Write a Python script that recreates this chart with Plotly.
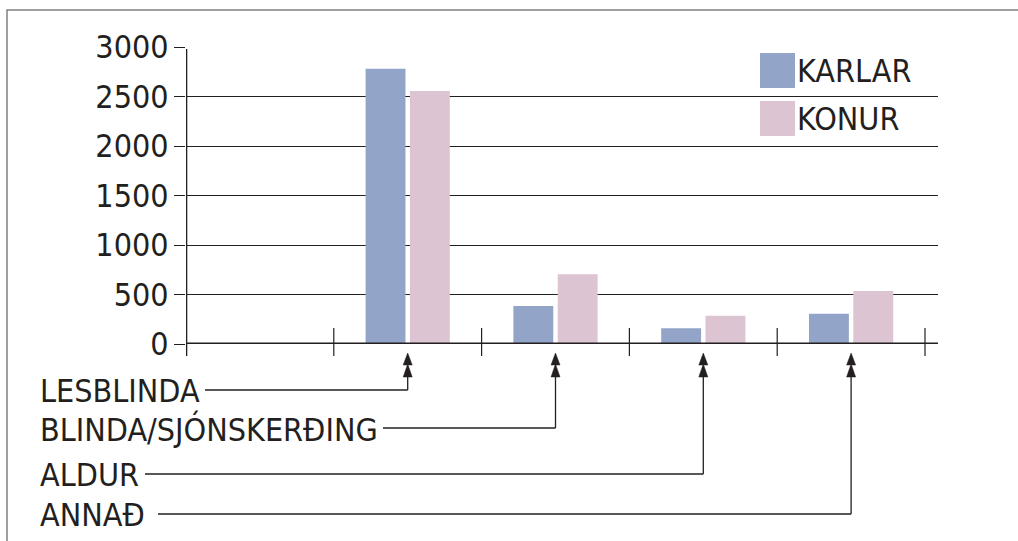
import plotly.graph_objects as go

# ---------------- data ----------------
categories = [" ", "LESBLINDA", "BLINDA/SJÓNSKERÐING", "ALDUR", "ANNAÐ"]
series_names = ["KARLAR", "KONUR"]
karlar = [None, 2780, 385, 160, 305]
konur = [None, 2555, 705, 285, 535]
y_tickvals = [0, 500, 1000, 1500, 2000, 2500, 3000]
y_ticktext = ["0", "500", "1000", "1500", "2000", "2500", "3000"]

# ---------------- styling / geometry ----------------
COL_K = "#93A4C9"
COL_W = "#DCC4D2"
INK = "#231F20"
FONT = "DejaVu Sans Condensed, Liberation Sans Narrow, Roboto Condensed, Arial Narrow, sans-serif"
FS = 32

W, H = 1018, 541
PL, PR, PT, PB = 186, 938, 47, 344  # plot area in pixels
X_MIN = -0.5
PX_PER_CAT = 147.8
X_MAX = X_MIN + (PR - PL) / PX_PER_CAT


def py(p):  # pixel row -> paper y
    return (PB - p) / (PB - PT)


def px(p):  # pixel column -> paper x
    return (p - PL) / (PR - PL)


def dx(p):  # pixel column -> data x
    return X_MIN + (p - PL) / PX_PER_CAT


def cat_paper(i):  # category index -> paper x (same scale as the x axis)
    return (i - X_MIN) / (X_MAX - X_MIN)


fig = go.Figure()
fig.add_trace(go.Bar(x=categories, y=karlar, name=series_names[0],
                     marker=dict(color=COL_K, line=dict(width=0)), showlegend=False))
fig.add_trace(go.Bar(x=categories, y=konur, name=series_names[1],
                     marker=dict(color=COL_W, line=dict(width=0)), showlegend=False))

shapes = []
annotations = []

# outer frame
shapes.append(dict(type="rect", xref="paper", yref="paper",
                   x0=px(7), x1=px(1040), y0=py(10), y1=py(580),
                   line=dict(color="#808080", width=1.5), fillcolor="rgba(0,0,0,0)"))
# y axis line (extends below the x axis)
shapes.append(dict(type="line", xref="x", yref="paper", x0=X_MIN, x1=X_MIN,
                   y0=py(356), y1=py(49), line=dict(color=INK, width=2.6)))
# x axis line
shapes.append(dict(type="line", xref="x", yref="y", x0=X_MIN, x1=dx(940),
                   y0=0, y1=0, line=dict(color=INK, width=3)))
# category boundary ticks crossing the x axis
for i in range(1, len(categories) + 1):
    shapes.append(dict(type="line", xref="x", yref="paper", x0=i - 0.5, x1=i - 0.5,
                       y0=py(356), y1=py(328), line=dict(color=INK, width=1.2)))

# callouts: label -> line -> double arrow under each category
label_rows = [390, 428, 474, 514]
line_starts = [205, 383, 145, 158]
for k, cat in enumerate(categories[1:]):
    ci = k + 1
    yrow = label_rows[k]
    annotations.append(dict(text=cat, xref="paper", yref="paper", x=px(38), y=py(yrow + 1),
                            xanchor="left", yanchor="middle", showarrow=False,
                            font=dict(family=FONT, size=FS, color=INK)))
    shapes.append(dict(type="line", xref="paper", yref="paper",
                       x0=px(line_starts[k]), x1=cat_paper(ci),
                       y0=py(yrow), y1=py(yrow), line=dict(color=INK, width=1.3)))
    shapes.append(dict(type="line", xref="x", yref="paper", x0=ci, x1=ci,
                       y0=py(yrow), y1=py(372), line=dict(color=INK, width=1.3)))
    for tip, base in [(353, 365), (364, 377)]:
        shapes.append(dict(type="path", xref="x", yref="paper", xsizemode="pixel", xanchor=ci,
                           path=f"M -4.5,{py(base)} L 0,{py(tip)} L 4.5,{py(base)} Z",
                           fillcolor=INK, line=dict(color=INK, width=0.5)))

# legend (drawn manually)
for name, col, top in [(series_names[0], COL_K, 53), (series_names[1], COL_W, 101)]:
    shapes.append(dict(type="rect", xref="paper", yref="paper", x0=px(760), x1=px(795),
                       y0=py(top + 35), y1=py(top), fillcolor=col, line=dict(width=0)))
    annotations.append(dict(text=name, xref="paper", yref="paper", x=px(795), y=py(top + 18),
                            xanchor="left", yanchor="middle", showarrow=False,
                            font=dict(family=FONT, size=FS, color=INK)))

fig.update_layout(
    width=W, height=H,
    margin=dict(l=PL, r=W - PR, t=PT, b=H - PB, pad=0),
    paper_bgcolor="white", plot_bgcolor="white",
    barmode="group", bargap=0.4, bargroupgap=0.1,
    font=dict(family=FONT, size=FS, color=INK),
    shapes=shapes, annotations=annotations,
    xaxis=dict(type="category", categoryorder="array", categoryarray=categories,
               range=[X_MIN, X_MAX], showticklabels=False, showgrid=False,
               zeroline=False, showline=False, ticks=""),
    yaxis=dict(range=[0, 3000], tickvals=y_tickvals, ticktext=y_ticktext,
               showgrid=True, gridcolor=INK, gridwidth=1.3, zeroline=False,
               showline=False, ticks="outside", ticklen=11, tickwidth=1.3, tickcolor=INK,
               ticklabelstandoff=-1,
               tickfont=dict(family=FONT, size=FS, color=INK)),
)

fig.write_html("out.html", config={"displayModeBar": False},
               post_script="document.body.style.margin='0px';document.body.style.overflow='hidden';")
